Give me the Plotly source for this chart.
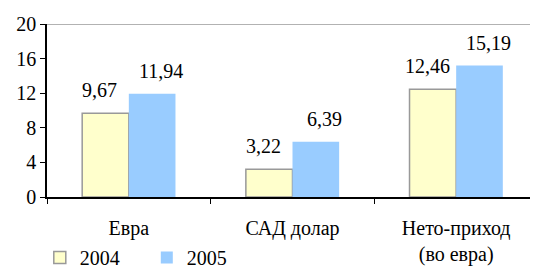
import plotly.graph_objects as go

categories = ["Евра", "САД долар", "Нето-приход<br>(во евра)"]
series_names = ["2004", "2005"]
values_2004 = [9.67, 3.22, 12.46]
values_2005 = [11.94, 6.39, 15.19]
y_ticks = [0, 4, 8, 12, 16, 20]

FONT = "Liberation Serif, Times New Roman, serif"

def fmt(v):
    return f"{v:.2f}".replace(".", ",")

fig = go.Figure()
fig.add_trace(go.Bar(
    name=series_names[0], x=categories, y=values_2004,
    marker=dict(color="#FFFFCC", line=dict(color="#999999", width=1.5)),
))
fig.add_trace(go.Bar(
    name=series_names[1], x=categories, y=values_2005,
    marker=dict(color="#99CCFF", line=dict(width=0)),
))

# value labels above bars
for vals, shift in ((values_2004, -29), (values_2005, 32)):
    for c, v in zip(categories, vals):
        fig.add_annotation(x=c, y=v, text=fmt(v), showarrow=False,
                           xshift=shift, yshift=10, yanchor="bottom",
                           font=dict(family=FONT, size=20, color="black"))

fig.update_layout(
    width=530, height=260,
    margin=dict(l=39, r=0, t=16, b=71, autoexpand=False),
    paper_bgcolor="white", plot_bgcolor="white",
    barmode="group", bargap=0.43, bargroupgap=0,
    font=dict(family=FONT, size=20, color="black"),
    showlegend=True,
    legend=dict(orientation="h", x=0.06, xanchor="left", xref="container",
                y=0.04, yanchor="middle", yref="container",
                font=dict(family=FONT, size=20), entrywidth=62, entrywidthmode="pixels",
                itemwidth=30, tracegroupgap=0, bgcolor="rgba(0,0,0,0)"),
)
fig.update_xaxes(
    showline=True, linecolor="black", linewidth=1.5, automargin=False,
    ticks="outside", tickson="boundaries", ticklen=5, tickcolor="black",
    showgrid=False, ticklabelstandoff=12,
    tickfont=dict(family=FONT, size=20),
)
fig.update_yaxes(
    range=[0, 20], tickvals=y_ticks, showline=True, linecolor="black", linewidth=1.5,
    automargin=False,
    ticks="outside", ticklen=5, tickcolor="black", showgrid=False, zeroline=False,
    tickfont=dict(family=FONT, size=20),
)
fig.add_shape(type="line", xref="paper", yref="y", x0=0, x1=1, y0=y_ticks[-1], y1=y_ticks[-1],
              line=dict(color="#999999", width=1.5))

fig.write_html("out.html")
